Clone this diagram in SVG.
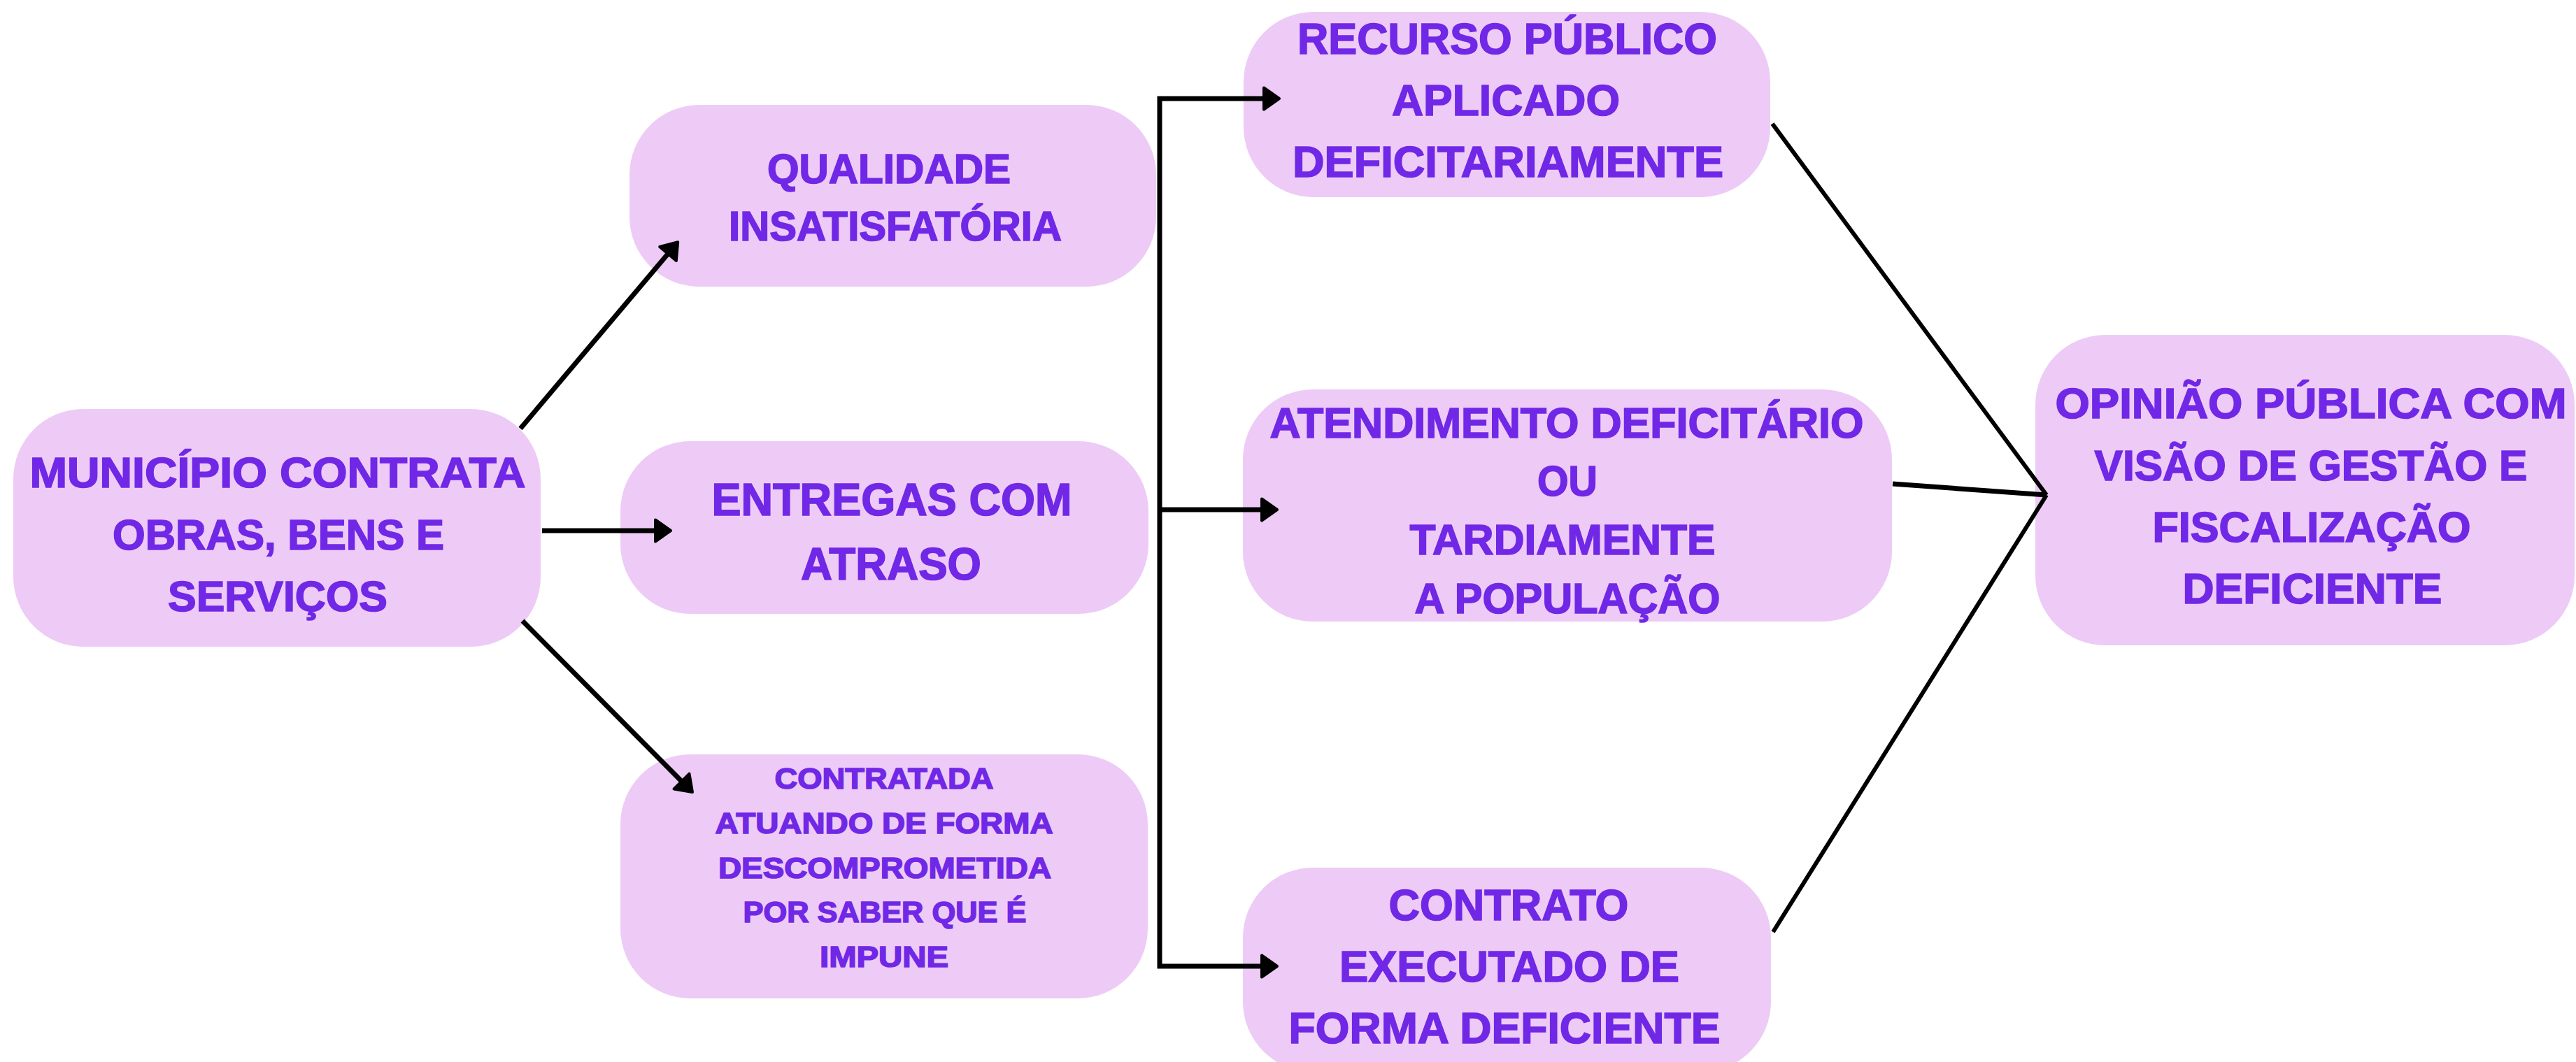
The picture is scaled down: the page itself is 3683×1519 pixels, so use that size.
<svg xmlns="http://www.w3.org/2000/svg" width="3683" height="1519" viewBox="0 0 3683 1519">
<style>
.box{fill:#EDCBF6;}
.t{font-family:"Liberation Sans",Arial,sans-serif;font-weight:bold;fill:#7028E6;stroke:#7028E6;stroke-width:1.6;text-anchor:middle;}
.ln{stroke:#000;stroke-width:7;fill:none;}
.ln2{stroke:#000;stroke-width:6;fill:none;}
</style>
<defs>
<marker id="ah" markerUnits="userSpaceOnUse" viewBox="-4 -4 32 40" markerWidth="32" markerHeight="40" refX="0" refY="15.5" orient="auto-start-reverse">
<path d="M0,0 L22,15.5 L0,31 Z" fill="#000" stroke="#000" stroke-width="4" stroke-linejoin="round"/>
</marker>
</defs>
<rect width="3683" height="1519" fill="#fff"/>
<g id="n-municipio">
<rect class="box" x="19" y="585" width="754" height="340" rx="100" ry="100"/>
<text class="t" font-size="61" x="397" y="697" textLength="709" lengthAdjust="spacingAndGlyphs">MUNICÍPIO CONTRATA</text>
<text class="t" font-size="61" x="398" y="786" textLength="474" lengthAdjust="spacingAndGlyphs">OBRAS, BENS E</text>
<text class="t" font-size="61" x="397" y="874" textLength="314" lengthAdjust="spacingAndGlyphs">SERVIÇOS</text>
</g>
<g id="n-qualidade">
<rect class="box" x="900" y="150" width="753" height="260" rx="100" ry="100"/>
<text class="t" font-size="59" x="1271" y="262" textLength="348" lengthAdjust="spacingAndGlyphs">QUALIDADE</text>
<text class="t" font-size="59" x="1280" y="344" textLength="476" lengthAdjust="spacingAndGlyphs">INSATISFATÓRIA</text>
</g>
<g id="n-entregas">
<rect class="box" x="887" y="631" width="755" height="247" rx="100" ry="100"/>
<text class="t" font-size="65" x="1275" y="737" textLength="515" lengthAdjust="spacingAndGlyphs">ENTREGAS COM</text>
<text class="t" font-size="65" x="1274" y="829" textLength="258" lengthAdjust="spacingAndGlyphs">ATRASO</text>
</g>
<g id="n-contratada">
<rect class="box" x="887" y="1079" width="754" height="349" rx="100" ry="100"/>
<text class="t" font-size="43" x="1264" y="1128" textLength="313" lengthAdjust="spacingAndGlyphs">CONTRATADA</text>
<text class="t" font-size="43" x="1264" y="1192" textLength="483" lengthAdjust="spacingAndGlyphs">ATUANDO DE FORMA</text>
<text class="t" font-size="43" x="1265" y="1256" textLength="476" lengthAdjust="spacingAndGlyphs">DESCOMPROMETIDA</text>
<text class="t" font-size="43" x="1265" y="1319" textLength="405" lengthAdjust="spacingAndGlyphs">POR SABER QUE É</text>
<text class="t" font-size="43" x="1264" y="1383" textLength="184" lengthAdjust="spacingAndGlyphs">IMPUNE</text>
</g>
<g id="n-recurso">
<rect class="box" x="1778" y="17" width="753" height="265" rx="100" ry="100"/>
<text class="t" font-size="63" x="2155" y="77" textLength="600" lengthAdjust="spacingAndGlyphs">RECURSO PÚBLICO</text>
<text class="t" font-size="63" x="2153" y="165" textLength="326" lengthAdjust="spacingAndGlyphs">APLICADO</text>
<text class="t" font-size="63" x="2156" y="253" textLength="616" lengthAdjust="spacingAndGlyphs">DEFICITARIAMENTE</text>
</g>
<g id="n-atendimento">
<rect class="box" x="1777" y="557" width="928" height="332" rx="100" ry="100"/>
<text class="t" font-size="61" x="2240" y="626" textLength="849" lengthAdjust="spacingAndGlyphs">ATENDIMENTO DEFICITÁRIO</text>
<text class="t" font-size="61" x="2241" y="709" textLength="86" lengthAdjust="spacingAndGlyphs">OU</text>
<text class="t" font-size="61" x="2234" y="793" textLength="437" lengthAdjust="spacingAndGlyphs">TARDIAMENTE</text>
<text class="t" font-size="61" x="2241" y="877" textLength="437" lengthAdjust="spacingAndGlyphs">A POPULAÇÃO</text>
</g>
<g id="n-contrato">
<rect class="box" x="1777" y="1241" width="755" height="292" rx="100" ry="100"/>
<text class="t" font-size="63" x="2157" y="1316" textLength="343" lengthAdjust="spacingAndGlyphs">CONTRATO</text>
<text class="t" font-size="63" x="2158" y="1404" textLength="486" lengthAdjust="spacingAndGlyphs">EXECUTADO DE</text>
<text class="t" font-size="63" x="2151" y="1492" textLength="617" lengthAdjust="spacingAndGlyphs">FORMA DEFICIENTE</text>
</g>
<g id="n-opiniao">
<rect class="box" x="2910" y="479" width="771" height="444" rx="100" ry="100"/>
<text class="t" font-size="61" x="3304" y="598" textLength="731" lengthAdjust="spacingAndGlyphs">OPINIÃO PÚBLICA COM</text>
<text class="t" font-size="61" x="3304" y="687" textLength="619" lengthAdjust="spacingAndGlyphs">VISÃO DE GESTÃO E</text>
<text class="t" font-size="61" x="3305" y="775" textLength="455" lengthAdjust="spacingAndGlyphs">FISCALIZAÇÃO</text>
<text class="t" font-size="61" x="3306" y="863" textLength="371" lengthAdjust="spacingAndGlyphs">DEFICIENTE</text>
</g>
<g id="connectors">
<line class="ln" x1="744" y1="613" x2="955" y2="363" marker-end="url(#ah)"/>
<line class="ln" x1="775" y1="759" x2="937" y2="759" marker-end="url(#ah)"/>
<line class="ln" x1="747" y1="888" x2="974.5" y2="1117.5" marker-end="url(#ah)"/>
<path class="ln" d="M1807,141 H1658 V1382 H1804" stroke-linejoin="miter" marker-start="url(#ah)" marker-end="url(#ah)"/>
<line class="ln" x1="1658" y1="729" x2="1804" y2="729" marker-end="url(#ah)"/>
<line class="ln2" x1="2534" y1="177" x2="2926" y2="708"/>
<line class="ln" x1="2706" y1="692" x2="2926" y2="708"/>
<line class="ln2" x1="2535" y1="1333" x2="2926" y2="708"/>
</g>
</svg>
